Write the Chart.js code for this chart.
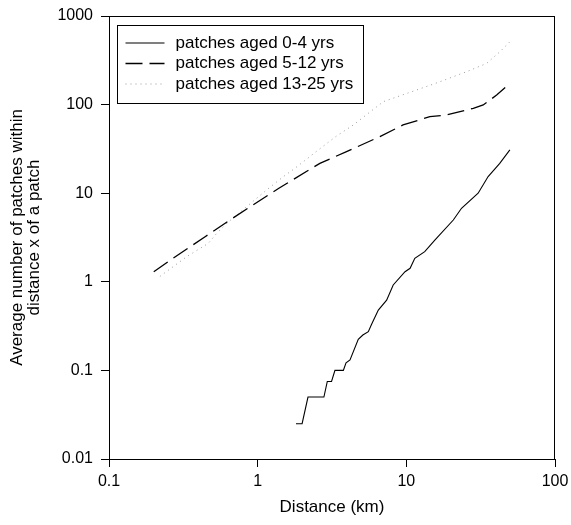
<!DOCTYPE html>
<html>
<head>
<meta charset="utf-8">
<script src="https://cdn.jsdelivr.net/npm/chart.js@4"></script>
<style>
  html, body { margin: 0; padding: 0; background: #fff; }
  #wrap { width: 571px; height: 525px; }
</style>
</head>
<body>
<div id="wrap"><canvas id="c" width="571" height="525"></canvas></div>
<script>
// ---- data ----
const seriesLabels = ['patches aged 0-4 yrs', 'patches aged 5-12 yrs', 'patches aged 13-25 yrs'];

const young_x = [1.81, 1.99, 2.18, 2.79, 2.94, 3.14, 3.31, 3.77, 3.93, 4.18, 4.75, 5.1, 5.55, 5.85, 6.48, 7.37, 8.16, 9.8, 10.6, 11.4, 13.3, 15.6, 20.7, 23.5, 30.4, 35.5, 42.5, 49.7];
const young_y = [0.025, 0.025, 0.05, 0.05, 0.075, 0.075, 0.1, 0.1, 0.122, 0.131, 0.224, 0.251, 0.274, 0.334, 0.48, 0.62, 0.92, 1.30, 1.42, 1.84, 2.19, 2.97, 4.98, 6.76, 10, 15.4, 21.7, 30.8];

const mid_x = [0.2, 0.264, 0.443, 0.65, 0.93, 1.38, 2.62, 3.96, 6.64, 9.5, 14.4, 18.7, 28.2, 32.9, 40.5, 49.8];
const mid_y = [1.3, 1.80, 3.23, 4.98, 7.36, 11.3, 21.7, 29.5, 43.5, 58.9, 73.1, 76.4, 90.8, 99, 128, 174];

const old_x = [0.22, 0.333, 0.466, 0.53, 0.62, 1.15, 1.49, 1.78, 2.56, 3.40, 4.40, 7.0, 11.7, 16.8, 25.4, 34.7, 42.6, 49.8];
const old_y = [1.15, 1.92, 2.72, 3.52, 4.57, 10.9, 15.4, 19.1, 30.8, 44.3, 58.9, 108, 146, 181, 235, 292, 395, 513];

const xTicks = [0.1, 1, 10, 100];
const yTicks = [0.01, 0.1, 1, 10, 100, 1000];
const xTitle = 'Distance (km)';
const yTitle = ['Average number of patches within', 'distance x of a patch'];

// ---- chart ----
const FONT = "'Liberation Sans', Arial, sans-serif";
const toPts = (xs, ys) => xs.map((x, i) => ({x: x, y: ys[i]}));

const framePlugin = {
  id: 'frame',
  afterDraw(chart) {
    const {ctx, chartArea: a} = chart;
    ctx.save();
    ctx.strokeStyle = '#000';
    ctx.lineWidth = 1;
    ctx.strokeRect(Math.round(a.left) + 0.5, Math.round(a.top) + 0.5,
                   Math.round(a.right - a.left) - 1, Math.round(a.bottom - a.top));
    ctx.restore();
  }
};

const legendPlugin = {
  id: 'boxLegend',
  afterDraw(chart) {
    const {ctx, chartArea: a} = chart;
    const bx = Math.round(a.left) + 8.5, by = Math.round(a.top) + 9.5, bw = 246, bh = 78;
    ctx.save();
    ctx.fillStyle = '#fff';
    ctx.fillRect(bx, by, bw, bh);
    ctx.strokeStyle = '#000';
    ctx.lineWidth = 1;
    ctx.strokeRect(bx, by, bw, bh);
    ctx.font = '17px ' + FONT;
    ctx.textBaseline = 'middle';
    ctx.textAlign = 'left';
    chart.data.datasets.forEach((ds, i) => {
      const y = by + 17.5 + i * 20.5;
      ctx.beginPath();
      ctx.setLineDash(ds.borderDash || []);
      ctx.strokeStyle = ds.borderColor;
      ctx.lineWidth = ds.borderWidth;
      ctx.moveTo(bx + 8, y);
      ctx.lineTo(bx + 47, y);
      ctx.stroke();
      ctx.setLineDash([]);
      ctx.fillStyle = '#000';
      ctx.fillText(ds.label, bx + 58, y);
    });
    ctx.restore();
  }
};

new Chart(document.getElementById('c'), {
  type: 'scatter',
  data: {
    datasets: [
      { label: seriesLabels[0], data: toPts(young_x, young_y), showLine: true,
        borderColor: '#000', borderWidth: 1.1, pointRadius: 0, tension: 0 },
      { label: seriesLabels[1], data: toPts(mid_x, mid_y), showLine: true,
        borderColor: '#000', borderWidth: 1.3, borderDash: [17, 7], pointRadius: 0, tension: 0 },
      { label: seriesLabels[2], data: toPts(old_x, old_y), showLine: true,
        borderColor: '#999', borderWidth: 1, borderDash: [1, 4], pointRadius: 0, tension: 0 }
    ]
  },
  options: {
    responsive: false,
    animation: false,
    devicePixelRatio: 1,
    layout: { padding: { top: 16, right: 16, left: 0, bottom: 0 } },
    plugins: { legend: { display: false }, tooltip: { enabled: false } },
    scales: {
      x: {
        type: 'logarithmic', position: 'bottom', min: 0.1, max: 100,
        afterBuildTicks: s => { s.ticks = xTicks.map(v => ({value: v})); },
        afterFit: s => { s.height = 66; s.paddingLeft = 0; s.paddingRight = 0; },
        ticks: { autoSkip: false, maxRotation: 0, color: '#000', padding: 5,
                 font: { family: FONT, size: 16 }, callback: v => String(v) },
        grid: { display: true, drawOnChartArea: false, drawTicks: true, tickLength: 8, color: '#000', lineWidth: 1 },
        border: { display: true, color: '#000', width: 1 },
        title: { display: true, text: xTitle, color: '#000', padding: { top: 0, bottom: 7 },
                 font: { family: FONT, size: 17, lineHeight: 1.2 } }
      },
      y: {
        type: 'logarithmic', position: 'left', min: 0.01, max: 1000,
        afterBuildTicks: s => { s.ticks = yTicks.map(v => ({value: v})); },
        afterFit: s => { s.width = 109; s.paddingTop = 0; s.paddingBottom = 0; },
        ticks: { autoSkip: false, color: '#000', padding: 8,
                 font: { family: FONT, size: 16 }, callback: v => String(v) },
        grid: { display: true, drawOnChartArea: false, drawTicks: true, tickLength: 8, color: '#000', lineWidth: 1 },
        border: { display: true, color: '#000', width: 1 },
        title: { display: true, text: yTitle, color: '#000', padding: { top: 8, bottom: 0 },
                 font: { family: FONT, size: 17, lineHeight: 1.05 } }
      }
    }
  },
  plugins: [framePlugin, legendPlugin]
});
</script>
</body>
</html>
